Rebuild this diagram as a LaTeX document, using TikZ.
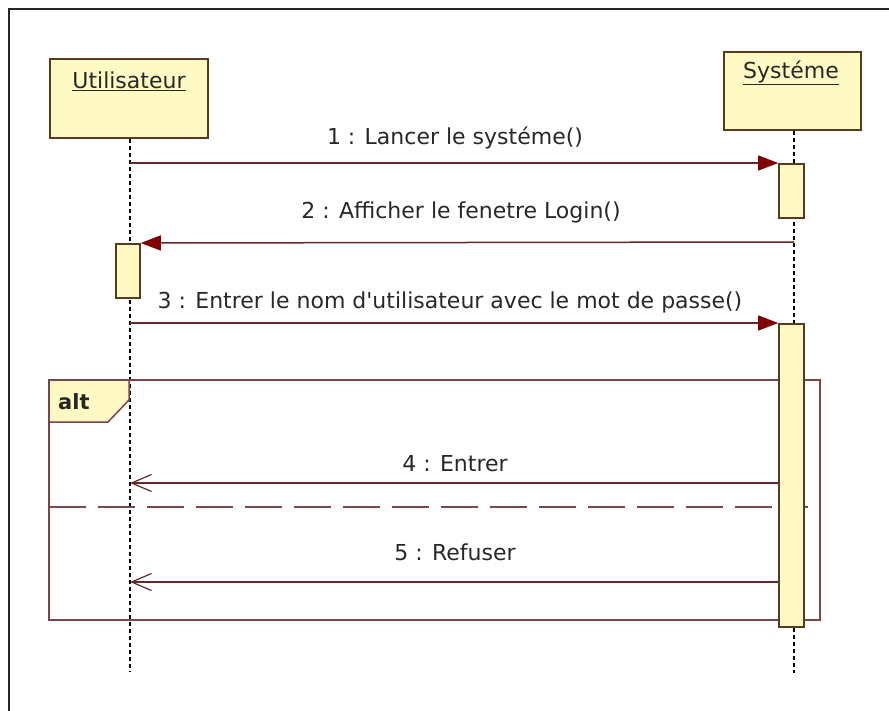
\documentclass[tikz,border=0pt]{standalone}
\usepackage{fontspec}
\setmainfont{DejaVu Sans}
\usetikzlibrary{arrows.meta}
\definecolor{boxfill}{RGB}{255,250,196}
\definecolor{boxline}{RGB}{90,58,30}
\definecolor{msgline}{RGB}{100,40,40}
\definecolor{arrowred}{RGB}{128,0,0}
\definecolor{framecol}{RGB}{120,70,70}
\definecolor{txt}{RGB}{40,40,40}
\tikzset{
  objbox/.style={draw=boxline, fill=boxfill, line width=2pt, inner sep=0pt, anchor=north west},
  actbox/.style={draw=boxline, fill=boxfill, line width=1.6pt, inner sep=0pt, minimum width=25pt},
  lifeline/.style={line width=1.8pt, dash pattern=on 4pt off 3pt, black},
  callmsg/.style={draw=msgline, line width=1.5pt, -{Triangle[length=20pt,width=15pt,fill=arrowred,color=arrowred]}},
  replymsg/.style={draw=msgline, line width=1.5pt, -{Straight Barb[length=20pt,width=17pt,line width=1.2pt,color=msgline]}},
  lbl/.style={font=\fontsize{22pt}{26pt}\selectfont, text=txt, inner sep=0pt},
  fragline/.style={draw=framecol, line width=1.5pt},
}
\begin{document}
\begin{tikzpicture}[x=1pt,y=-1pt]
\useasboundingbox (0,0) rectangle (889,711);
% outer frame
\draw[line width=2pt, black!85] (8.5,711) -- (8.5,9.5) -- (889,9.5);

% object boxes
\node[objbox, minimum width=158pt, minimum height=79pt] (ubox) at (49,58) {};
\node[lbl] (ulbl) at (129,81) {\underline{Utilisateur}};
\node[objbox, minimum width=137pt, minimum height=78pt] (sbox) at (723,51) {};
\node[lbl] (slbl) at (791,73) {\underline{Systéme}};

% lifelines
\coordinate (uend) at (130,672);
\coordinate (send) at (794,673);
\draw[lifeline] (ubox.south -| uend) -- (uend);
\draw[lifeline] (sbox.south -| send) -- (send);

% alt fragment
\draw[fragline, fill=boxfill] (49,380) -- (129,380) -- (129,400) -- (108,422) -- (49,422) -- cycle;
\draw[fragline] (49,380) rectangle (820,620);
\node[font=\bfseries\fontsize{21pt}{24pt}\selectfont, text=black!85, anchor=west, inner sep=0pt] (altlbl) at (58,402) {alt};
\draw[framecol, line width=1.5pt, dash pattern=on 37pt off 12pt] (49,507) -- (808,507);

% activation boxes
\node[actbox, minimum height=54pt, anchor=north] (sact1) at (791.5,163) {};
\node[actbox, minimum width=24pt, minimum height=54pt, anchor=north] (uact) at (128,243) {};
\node[actbox, minimum height=303pt, anchor=north] (sact2) at (791.5,323) {};

% messages
\coordinate (u1) at (130,163);
\draw[callmsg] (u1) -- (sact1.north west);
\node[lbl] (m1) at (455,138) {1 : Lancer le systéme()};

\coordinate (s2) at (794,242);
\draw[callmsg] (s2) -- (uact.north east);
\node[lbl] (m2) at (461,212) {2 : Afficher le fenetre Login()};

\coordinate (u3) at (130,323);
\draw[callmsg] (u3) -- (sact2.north west);
\node[lbl] (m3) at (450,302) {3 : Entrer le nom d\textquotesingle utilisateur avec le mot de passe()};

\coordinate (u4) at (130,483);
\draw[replymsg] (sact2.west |- u4) -- (u4);
\node[lbl] (m4) at (455,464) {4 : Entrer};

\coordinate (u5) at (130,582);
\draw[replymsg] (sact2.west |- u5) -- (u5);
\node[lbl] (m5) at (455,552) {5 : Refuser};
\end{tikzpicture}
\end{document}
